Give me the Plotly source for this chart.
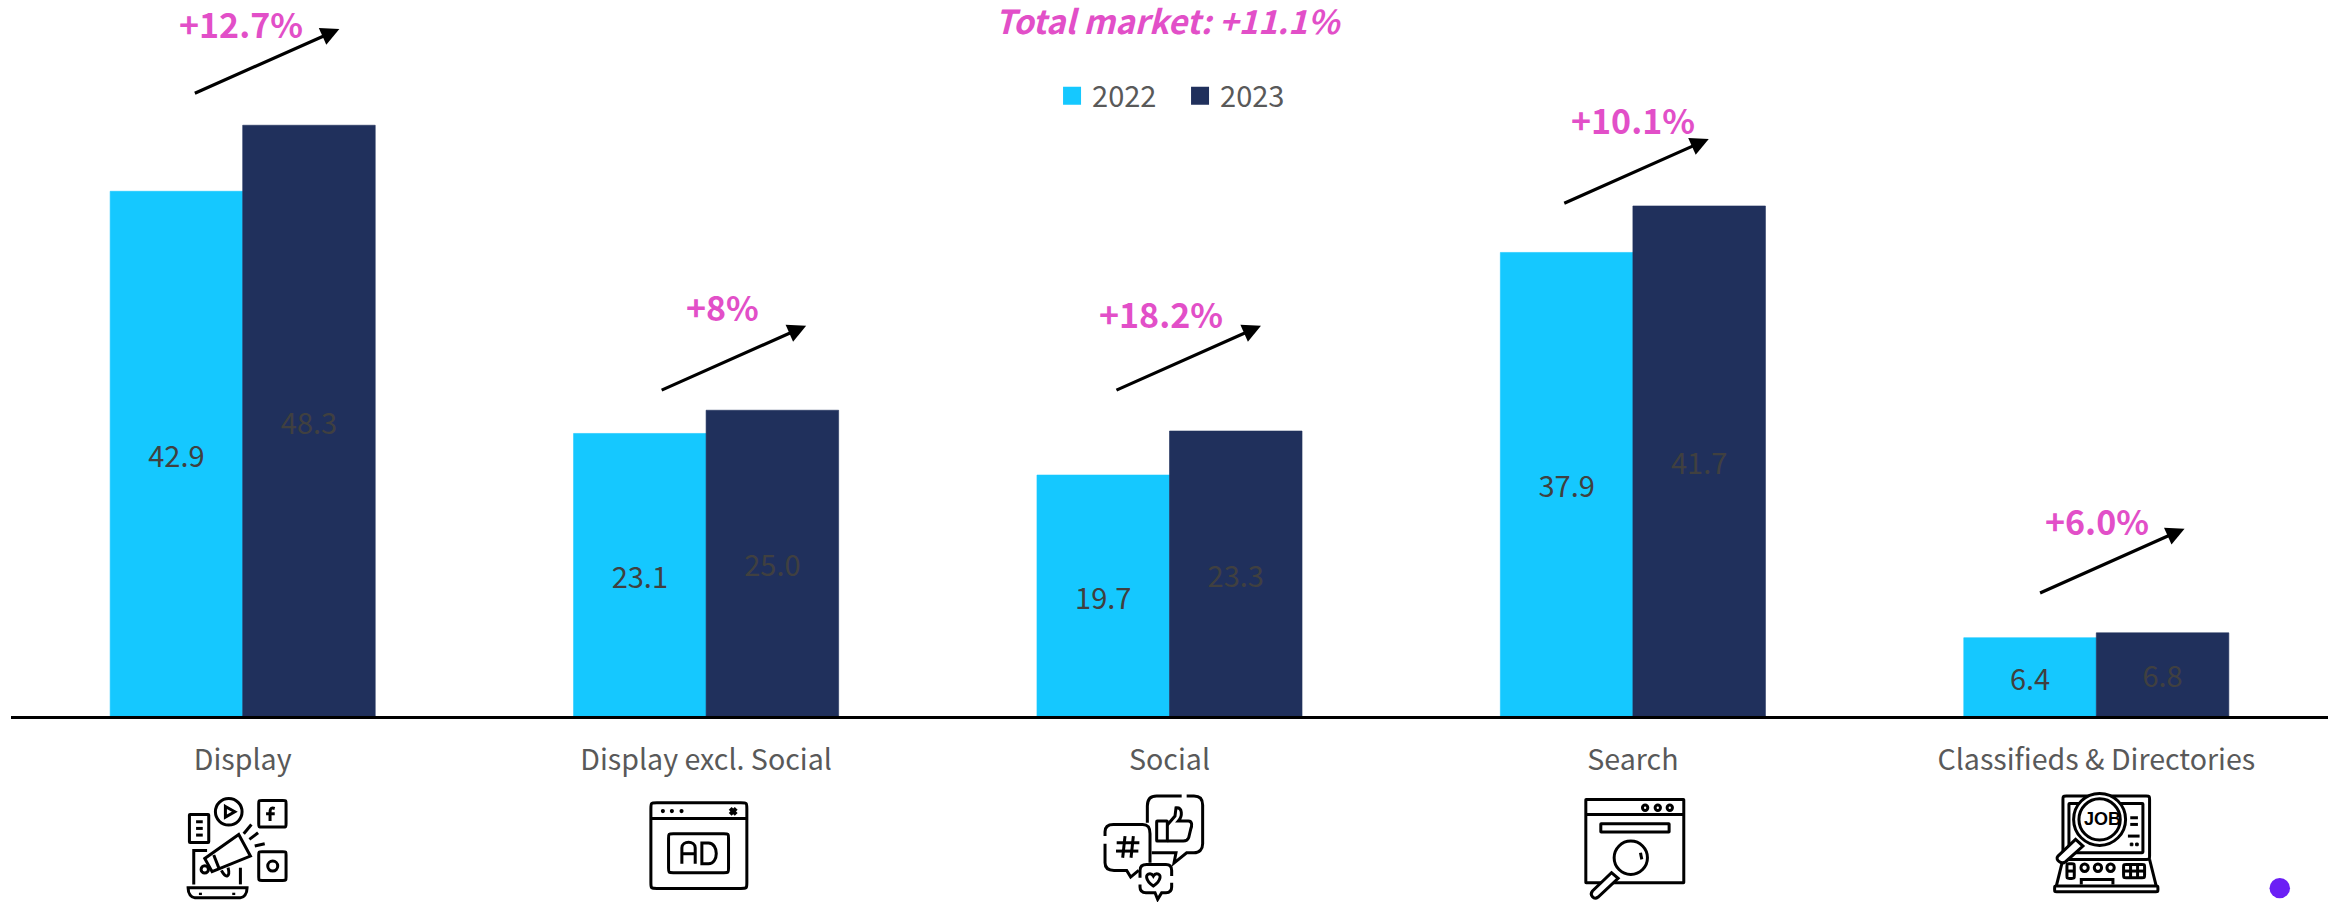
import plotly.graph_objects as go

categories = ["Display", "Display excl. Social", "Social", "Search", "Classifieds &amp; Directories"]
series_2022 = [42.9, 23.1, 19.7, 37.9, 6.4]
series_2023 = [48.3, 25.0, 23.3, 41.7, 6.8]
growth_labels = ["+12.7%", "+8%", "+18.2%", "+10.1%", "+6.0%"]
total_label = "Total market: +11.1%"

FONT = "Noto Sans CJK JP"
CYAN, NAVY, PINK = "#15C8FF", "#20305C", "#E24FC8"
W, H = 2336, 902
L, R, AXIS_Y = 10.5, 2328.5, 716.5
Y_MAX = 58.54

def px(x): return (x - L) / (R - L)
def py(y): return 1 - y / AXIS_Y

fig = go.Figure()
fig.add_bar(x=categories, y=series_2022, marker=dict(color=CYAN, line=dict(color=CYAN, width=0.6)), name="2022", showlegend=False)
fig.add_bar(x=categories, y=series_2023, marker=dict(color=NAVY, line=dict(color=NAVY, width=0.6)), name="2023", showlegend=False)
fig.update_traces(texttemplate="%{y:.1f}", textposition="inside", insidetextanchor="middle",
                  textangle=0, constraintext="none", textfont=dict(family=FONT, size=29, color="#404040"),
                  hoverinfo="skip")
for name, col in (("2022", CYAN), ("2023", NAVY)):
    fig.add_scatter(x=[None], y=[None], mode="markers", name=name,
                    marker=dict(symbol="square", size=16, color=col, line=dict(color=col, width=2)))

annotations = []
# growth labels and arrows (pixel placement of the annotation layer)
label_pos = [(241, 24), (722, 307), (1161, 314), (1633, 120), (2097, 521)]
arrow_tips = [(339, 29), (806, 326), (1261, 326), (1709, 139), (2185, 529)]
for text, (lx, ly), (tx, ty) in zip(growth_labels, label_pos, arrow_tips):
    annotations.append(dict(xref="paper", yref="paper", x=px(lx), y=py(ly), text=text, showarrow=False,
                            font=dict(family=FONT, size=34, color=PINK, weight="bold"),
                            xanchor="center", yanchor="middle"))
    annotations.append(dict(xref="paper", yref="paper", x=px(tx), y=py(ty), text="", showarrow=True,
                            axref="pixel", ayref="pixel", ax=-146, ay=65, arrowcolor="black",
                            arrowwidth=3.2, arrowhead=2, arrowsize=1.15, standoff=0))
annotations.append(dict(xref="paper", yref="paper", x=px(1168.5), y=py(20), text=total_label, showarrow=False,
                        font=dict(family=FONT, size=33, color=PINK, weight="bold", style="italic"),
                        xanchor="center", yanchor="middle"))

# ---------- icons (drawn in local coordinates of a 3x crop) ----------
shapes = []
def icon(ox, oy):
    def pt(x, y): return f"{px(ox + x / 3):.6f},{py(oy + y / 3):.6f}"
    def line(*pts, close=False):
        s = "M" + " L".join(pt(*p) for p in pts)
        return s + (" Z" if close else "")
    def curve(*segs, close=False):
        # segs: (x,y) move/line, or 6-tuple cubic
        out = []
        for i, s in enumerate(segs):
            if len(s) == 2:
                out.append(("M" if i == 0 else "L") + pt(*s))
            else:
                out.append("C" + pt(s[0], s[1]) + " " + pt(s[2], s[3]) + " " + pt(s[4], s[5]))
        return " ".join(out) + (" Z" if close else "")
    def rrect(x0, y0, x1, y1, r):
        return curve((x0 + r, y0), (x1 - r, y0), (x1, y0, x1, y0, x1, y0 + r), (x1, y1 - r),
                     (x1, y1, x1, y1, x1 - r, y1), (x0 + r, y1), (x0, y1, x0, y1, x0, y1 - r),
                     (x0, y0 + r), (x0, y0, x0, y0, x0 + r, y0), close=True)
    def circ(cx, cy, r):
        k = 0.5523 * r
        return curve((cx + r, cy), (cx + r, cy + k, cx + k, cy + r, cx, cy + r),
                     (cx - k, cy + r, cx - r, cy + k, cx - r, cy),
                     (cx - r, cy - k, cx - k, cy - r, cx, cy - r),
                     (cx + k, cy - r, cx + r, cy - k, cx + r, cy), close=True)
    return line, curve, rrect, circ

def add(path, fill=None, w=3):
    d = dict(type="path", xref="paper", yref="paper", path=path, layer="above",
             line=dict(color="black", width=w))
    if fill:
        d["fillcolor"] = fill
    shapes.append(d)

# Display icon
line, curve, rrect, circ = icon(175, 785)
add(circ(160, 82, 40)); add(line((150, 66), (178, 82), (150, 98), close=True))
add(rrect(250, 48, 332, 128, 10))
add(curve((298, 72), (284, 68, 284, 76, 284, 85), (284, 110))); add(line((272, 88), (298, 88)))
add(rrect(42, 90, 100, 174, 2))
for yy in (112, 132, 152):
    add(line((62, yy), (82, yy)))
add(line((205, 148), (228, 120))); add(line((222, 165), (248, 145))); add(line((238, 185), (268, 178)))
add(rrect(250, 202, 332, 288, 10)); add(circ(292, 245, 15))
add(line((55, 300), (55, 198), (95, 198))); add(line((195, 250), (195, 300)))
add(curve((38, 310), (215, 310), (215, 330, 205, 340, 195, 340), (58, 340), (48, 340, 38, 330, 38, 310), close=True))
add(line((75, 325), (75, 332))); add(line((175, 325), (175, 332)))
add(line((190, 150), (225, 215), (110, 262), (88, 222), close=True), fill="white")
add(circ(88, 255, 11)); add(line((115, 212), (132, 255)))
add(curve((138, 258), (152, 285, 165, 278, 158, 250)))

# Display excl. Social icon
line, curve, rrect, circ = icon(640, 785)
add(rrect(32, 55, 320, 312, 18)); add(line((32, 102), (320, 102)))
for xx in (68, 95, 124):
    add(circ(xx, 80, 4), fill="black", w=1.5)
add(line((270, 72), (288, 90)), w=4); add(line((288, 72), (270, 90)), w=4)
add(rrect(85, 148, 265, 265, 14))
add(curve((125, 238), (125, 190), (125, 168, 165, 168, 165, 190), (165, 238))); add(line((125, 208), (165, 208)))
add(curve((185, 176), (205, 176), (236, 176, 236, 238, 205, 238), (185, 238), close=True))

# Social icon
line, curve, rrect, circ = icon(1090, 785)
add(curve((275, 35), (200, 35), (180, 35, 172, 48, 172, 65), (172, 115)))
add(curve((290, 35), (312, 35), (330, 35, 338, 45, 338, 62), (338, 178), (338, 195, 328, 205, 312, 205),
          (290, 205), (252, 236), (258, 205), (185, 205)))
add(rrect(200, 110, 232, 170, 2))
add(curve((232, 122), (255, 95), (258, 70), (278, 68, 278, 95, 265, 110), (295, 110),
          (308, 110, 306, 125, 302, 135), (296, 160), (292, 170, 285, 170, 280, 170), (232, 170)))
add(curve((45, 155), (45, 142), (45, 125, 55, 120, 70, 120), (158, 120), (175, 120, 180, 130, 180, 148), (180, 235)))
add(curve((45, 178), (45, 235), (45, 250, 55, 258, 72, 258), (110, 258), (122, 278), (146, 258)))
add(line((105, 155), (98, 220))); add(line((130, 155), (123, 220)))
add(line((80, 175), (148, 175))); add(line((78, 200), (145, 200)))
add(curve((150, 280), (150, 258), (150, 245, 158, 240, 170, 240), (228, 240), (240, 240, 245, 248, 245, 258), (245, 275)))
add(curve((245, 295), (245, 308), (245, 320, 240, 325, 228, 325), (215, 325), (203, 345), (195, 325), (168, 325),
          (155, 325, 150, 320, 150, 308), (150, 300)))
add(curve((190, 305), (165, 288, 165, 268, 180, 268), (186, 268, 190, 275, 190, 275),
          (190, 275, 194, 268, 200, 268), (215, 268, 215, 288, 190, 305), close=True))

# Search icon
line, curve, rrect, circ = icon(1570, 785)
add(rrect(48, 45, 342, 295, 1)); add(line((48, 90), (342, 90)))
for xx in (226, 264, 300):
    add(circ(xx, 70, 8))
add(rrect(93, 118, 298, 143, 1))
add(circ(183, 220, 50), fill="white"); add(line((212, 205), (216, 225)))
add(curve((125, 265), (145, 282), (85, 338), (72, 348, 58, 332, 68, 320), close=True), fill="white")

# Classifieds icon
line, curve, rrect, circ = icon(2040, 785)
add(rrect(70, 35, 330, 225, 10)); add(rrect(88, 57, 310, 205, 2))
add(line((272, 100), (295, 100))); add(line((272, 120), (295, 120))); add(line((265, 155), (300, 155)))
add(rrect(272, 176, 280, 184, 1), fill="black", w=1); add(rrect(288, 176, 296, 184, 1), fill="black", w=1)
add(line((70, 225), (50, 305))); add(line((330, 225), (350, 305)))
add(rrect(45, 305, 355, 322, 6))
add(rrect(82, 238, 104, 282, 8)); add(line((82, 260), (104, 260)))
for xx in (135, 175, 213):
    add(circ(xx, 250, 11))
add(rrect(252, 240, 315, 280, 8))
add(line((252, 260), (315, 260))); add(line((273, 240), (273, 280))); add(line((294, 240), (294, 280)))
add(line((125, 300), (125, 285), (220, 285), (220, 300)))
add(circ(180, 105, 78), fill="white"); add(circ(180, 105, 62), fill="white")
add(curve((108, 165), (130, 185), (78, 232), (65, 242, 45, 225, 55, 215), close=True), fill="white")
annotations.append(dict(xref="paper", yref="paper", x=px(2040 + 190 / 3), y=py(785 + 105 / 3), text="JOB",
                        showarrow=False, font=dict(family="Liberation Sans", size=18, color="black", weight="bold"),
                        xanchor="center", yanchor="middle"))

# small purple dot
shapes.append(dict(type="circle", xref="paper", yref="paper", x0=px(2270), x1=px(2290.5),
                   y0=py(899), y1=py(878.5), fillcolor="#6B1FF5", line=dict(width=0), layer="above"))

fig.update_layout(
    width=W, height=H, margin=dict(l=L, r=W - R, t=0, b=H - AXIS_Y, autoexpand=False),
    plot_bgcolor="white", paper_bgcolor="white", barmode="group", bargap=0.428, bargroupgap=0,
    xaxis=dict(type="category", showline=True, linecolor="black", linewidth=2.5, ticks="", showgrid=False,
               ticklabelstandoff=17, tickfont=dict(family=FONT, size=28.6, color="#595959")),
    yaxis=dict(visible=False, range=[0, Y_MAX], fixedrange=True),
    legend=dict(orientation="h", x=px(1052), y=py(96), xanchor="left", yanchor="middle",
                entrywidth=83, entrywidthmode="pixels", bgcolor="rgba(0,0,0,0)",
                font=dict(family=FONT, size=29, color="#595959")),
    annotations=annotations, shapes=shapes,
)
fig.write_html("out.html", config=dict(displayModeBar=False),
               post_script="document.body.style.margin='0';document.documentElement.style.overflow='hidden';")
